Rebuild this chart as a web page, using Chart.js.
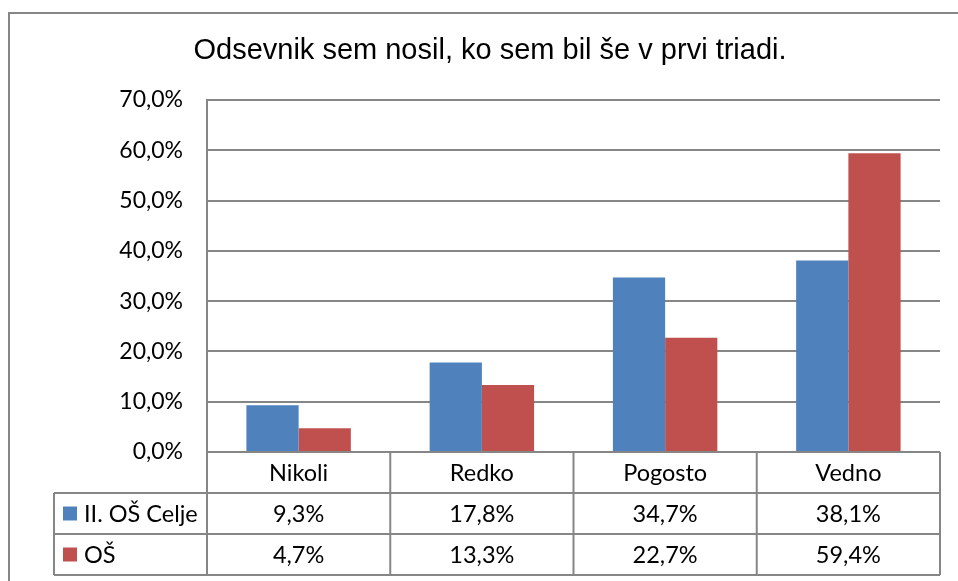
<!DOCTYPE html>
<html>
<head>
<meta charset="utf-8">
<script src="https://cdn.jsdelivr.net/npm/chart.js@4.4.1/dist/chart.umd.min.js"></script>
<style>
  html, body { margin: 0; padding: 0; background: #fff; }
  #wrap { position: relative; width: 958px; height: 581px; }
</style>
</head>
<body>
<div id="wrap"><canvas id="myChart" width="958" height="581"></canvas></div>
<script>
const titleText = 'Odsevnik sem nosil, ko sem bil še v prvi triadi.';
const categories = ['Nikoli', 'Redko', 'Pogosto', 'Vedno'];
const seriesNames = ['II. OŠ Celje', 'OŠ'];
const celjeValues = [9.3, 17.8, 34.7, 38.1];
const osValues = [4.7, 13.3, 22.7, 59.4];
const seriesColors = ['#4F81BD', '#C0504D'];
const lineColor = '#868686';
const tickFont = 'Lato';

function fmt(v) {
    return v.toFixed(1).replace('.', ',') + '%';
}

// frame, title and the data table under the plot
const tablePlugin = {
    id: 'tablePlugin',
    afterDraw(chart) {
        const c = chart.ctx;
        const area = chart.chartArea;
        const xs = chart.scales.x;
        const rowH = 41;
        const legendLeft = 54;
        const allValues = [celjeValues, osValues];

        c.save();
        // outer chart border
        c.strokeStyle = lineColor;
        c.lineWidth = 2;
        c.strokeRect(9, 13, 1000, 700);

        // title
        c.fillStyle = '#000';
        c.font = '29px "Liberation Sans", Arial, sans-serif';
        c.textAlign = 'center';
        c.textBaseline = 'middle';
        c.fillText(titleText, 490, 51);

        // table lines
        c.lineWidth = 2;
        c.strokeStyle = lineColor;
        const top = area.bottom;
        const bounds = [];
        for (let i = 0; i < categories.length; i++) {
            bounds.push(xs.getPixelForValue(i) - (area.right - area.left) / categories.length / 2);
        }
        bounds.push(area.right);

        c.beginPath();
        c.moveTo(area.left, top); c.lineTo(area.right, top);
        c.moveTo(legendLeft, top + rowH); c.lineTo(area.right, top + rowH);
        c.moveTo(legendLeft, top + rowH * 2); c.lineTo(area.right, top + rowH * 2);
        c.moveTo(legendLeft, top + rowH * 3); c.lineTo(area.right, top + rowH * 3);
        c.moveTo(legendLeft, top + rowH); c.lineTo(legendLeft, top + rowH * 3);
        bounds.forEach(function (bx) {
            c.moveTo(bx, top); c.lineTo(bx, top + rowH * 3);
        });
        c.stroke();

        c.font = '23.5px ' + tickFont;
        c.textAlign = 'center';
        c.fillStyle = '#000';
        for (let i = 0; i < categories.length; i++) {
            const cx = xs.getPixelForValue(i);
            c.fillText(categories[i], cx, top + rowH / 2 + 1);
            for (let s = 0; s < allValues.length; s++) {
                c.fillText(fmt(allValues[s][i]), cx, top + rowH * (s + 1) + rowH / 2 + 1);
            }
        }
        // series keys
        c.textAlign = 'left';
        for (let s = 0; s < seriesNames.length; s++) {
            const cy = top + rowH * (s + 1) + rowH / 2;
            c.fillStyle = seriesColors[s];
            c.fillRect(63, cy - 7, 14, 14);
            c.fillStyle = '#000';
            c.fillText(seriesNames[s], 84, cy + 1);
        }
        c.restore();
    }
};

const ctx = document.getElementById('myChart');
const myChart = new Chart(ctx, {
    type: 'bar',
    data: {
        labels: categories,
        datasets: [
            {
                label: seriesNames[0],
                data: celjeValues,
                backgroundColor: seriesColors[0],
                barPercentage: 1,
                categoryPercentage: 0.57
            },
            {
                label: seriesNames[1],
                data: osValues,
                backgroundColor: seriesColors[1],
                barPercentage: 1,
                categoryPercentage: 0.57
            }
        ]
    },
    options: {
        responsive: false,
        animation: false,
        layout: {
            padding: { left: 0, right: 18, top: 100, bottom: 129 }
        },
        plugins: {
            legend: { display: false },
            tooltip: { enabled: false },
            title: { display: false }
        },
        scales: {
            x: {
                display: false
            },
            y: {
                min: 0,
                max: 70,
                afterFit: function (scale) {
                    scale.width = 207;
                },
                ticks: {
                    stepSize: 10,
                    padding: 24,
                    color: '#000',
                    font: { family: tickFont, size: 23 },
                    callback: function (val) {
                        return fmt(val);
                    }
                },
                grid: {
                    color: lineColor,
                    lineWidth: 2,
                    drawTicks: false
                },
                border: {
                    color: lineColor,
                    width: 2
                }
            }
        }
    },
    plugins: [tablePlugin]
});
</script>
</body>
</html>
